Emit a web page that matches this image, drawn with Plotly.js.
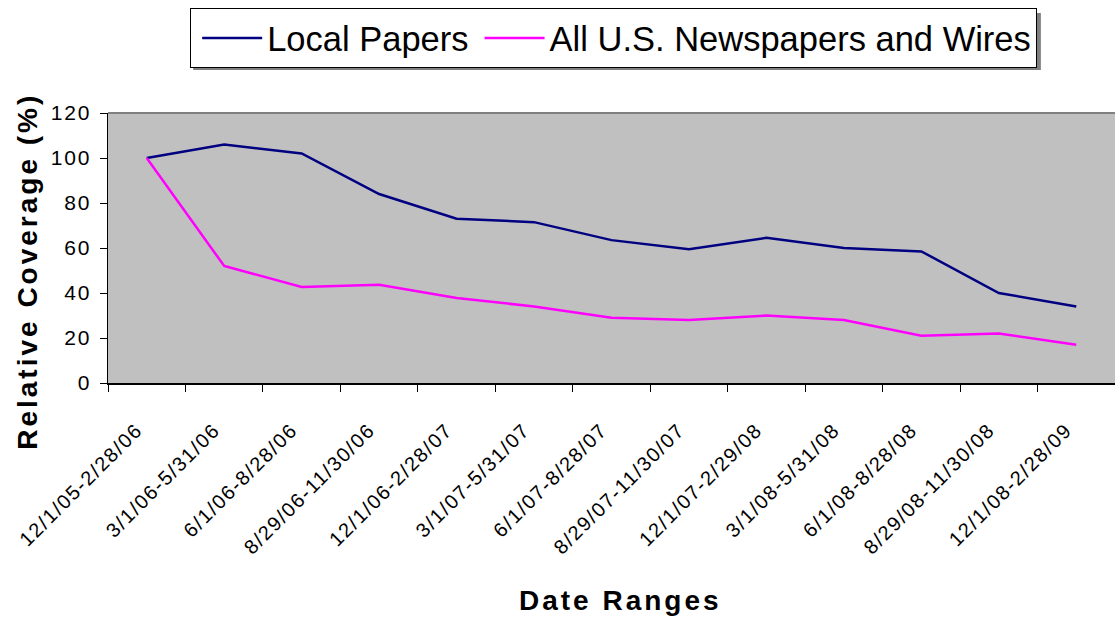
<!DOCTYPE html>
<html>
<head>
<meta charset="utf-8">
<script src="https://cdn.plot.ly/plotly-3.0.1.min.js"></script>
<style>
html,body{margin:0;padding:0;background:#fff;}
#chart{width:1115px;height:624px;}
.xtick text{letter-spacing:1.6px;}
.ytick text{letter-spacing:1.8px;}
.annotation-text{letter-spacing:3px;}
</style>
</head>
<body>
<div id="chart"></div>
<script>
const categories = ["12/1/05-2/28/06","3/1/06-5/31/06","6/1/06-8/28/06","8/29/06-11/30/06","12/1/06-2/28/07","3/1/07-5/31/07","6/1/07-8/28/07","8/29/07-11/30/07","12/1/07-2/29/08","3/1/08-5/31/08","6/1/08-8/28/08","8/29/08-11/30/08","12/1/08-2/28/09"];
const localPapers = [100, 106, 102, 84, 73, 71.5, 63.5, 59.5, 64.5, 60, 58.5, 40, 34];
const allUS = [100, 52, 42.7, 43.7, 37.8, 34, 29, 28, 30, 28, 21, 22, 17];
const yTicks = [0, 20, 40, 60, 80, 100, 120];

const traces = [
  {x: categories, y: localPapers, type: "scatter", mode: "lines", name: "Local Papers",
   line: {color: "#000080", width: 2.5}},
  {x: categories, y: allUS, type: "scatter", mode: "lines", name: "All U.S. Newspapers and Wires",
   line: {color: "#FF00FF", width: 2.5}}
];

const layout = {
  width: 1115, height: 624,
  margin: {l: 108, r: 0, t: 113, b: 241},
  paper_bgcolor: "#ffffff",
  plot_bgcolor: "#C0C0C0",
  font: {family: "Liberation Sans, Arial, sans-serif", color: "#000"},
  showlegend: true,
  legend: {
    orientation: "h", x: 0.0816, y: 1.389, xanchor: "left", yanchor: "top",
    bgcolor: "#ffffff", bordercolor: "#000", borderwidth: 1,
    font: {size: 34.5, family: "Liberation Sans, Arial, sans-serif"},
    itemwidth: 60, tracegroupgap: 0, indentation: 6
  },
  xaxis: {
    type: "category", range: [-0.5, 12.5],
    tickangle: -45, tickfont: {size: 20},
    ticks: "outside", ticklen: 7, tickcolor: "#000", tickson: "boundaries",
    ticklabelstandoff: 26, ticklabelshift: -10,
    showline: true, linecolor: "#000", linewidth: 1.5, mirror: false,
    showgrid: false, zeroline: false
  },
  yaxis: {
    range: [0, 120], tickvals: yTicks, ticktext: yTicks.map(String),
    tickfont: {size: 21}, ticks: "outside", ticklen: 7, tickcolor: "#000",
    ticklabelstandoff: 4,
    showline: true, linecolor: "#000", linewidth: 1.5,
    showgrid: false, zeroline: false
  },
  annotations: [
    {text: "<b>Date Ranges</b>", xref: "paper", yref: "paper", x: 0.509, y: -0.804,
     xanchor: "center", yanchor: "middle", showarrow: false, font: {size: 28}},
    {text: "<b>Relative Coverage (%)</b>", xref: "paper", yref: "paper", x: -0.0796, y: 0.415,
     xanchor: "center", yanchor: "middle", showarrow: false, textangle: -90, font: {size: 28}}
  ],
  shapes: [
    {type: "line", xref: "paper", yref: "paper", x0: 0, x1: 1, y0: 1, y1: 1,
     line: {color: "#808080", width: 2}},
    {type: "rect", xref: "paper", yref: "paper", layer: "above",
     x0: 0.0846, x1: 0.9264, y0: 1.1593, y1: 1.37,
     fillcolor: "#808080", line: {width: 0}}
  ]
};

Plotly.newPlot("chart", traces, layout, {displayModeBar: false, staticPlot: true});
</script>
</body>
</html>
